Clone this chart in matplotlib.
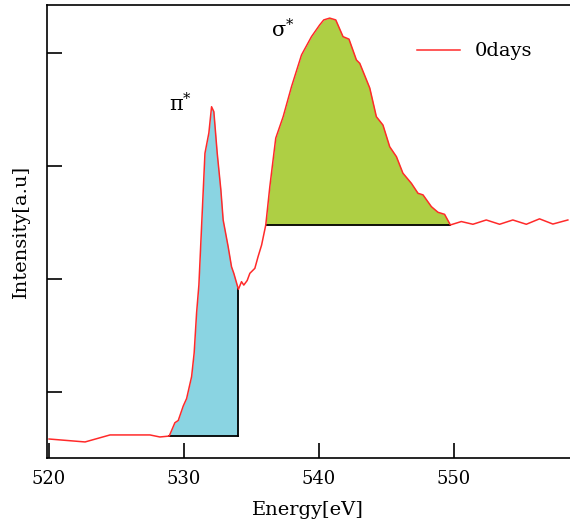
import numpy as np
import matplotlib
matplotlib.use("Agg")
import matplotlib.pyplot as plt

plt.rcParams["font.family"] = ["DejaVu Serif"]
plt.rcParams["mathtext.fontset"] = "dejavuserif"

# spectrum
energy = np.array([
    520.00, 522.67, 524.52, 527.48, 528.22, 528.91, 529.33, 529.58, 529.95, 530.20,
    530.57, 530.76, 530.94, 531.11, 531.56, 531.85, 532.05, 532.22, 532.47, 532.74,
    532.91, 533.28, 533.53, 533.70, 534.04, 534.27, 534.44, 534.69, 534.89, 535.26,
    535.50, 535.76, 536.07, 536.37, 536.81, 537.36, 537.98, 538.72, 539.46, 540.07,
    540.37, 540.81, 541.26, 541.80, 542.24, 542.79, 543.04, 543.78, 544.27, 544.76,
    545.26, 545.76, 546.24, 546.87, 547.36, 547.73, 548.35, 548.84, 549.33, 549.76,
    550.57, 551.43, 552.42, 553.41, 554.39, 555.39, 556.37, 557.36, 558.47,
])
intensity = np.array([
    0.292, 0.279, 0.310, 0.310, 0.301, 0.305, 0.364, 0.374, 0.438, 0.471,
    0.568, 0.673, 0.850, 0.973, 1.556, 1.646, 1.762, 1.740, 1.556, 1.394,
    1.261, 1.143, 1.054, 1.025, 0.954, 0.988, 0.973, 0.993, 1.025, 1.047,
    1.099, 1.150, 1.239, 1.408, 1.623, 1.718, 1.851, 1.991, 2.072, 2.124,
    2.146, 2.154, 2.146, 2.072, 2.061, 1.969, 1.954, 1.845, 1.718, 1.681,
    1.585, 1.541, 1.468, 1.423, 1.379, 1.372, 1.320, 1.295, 1.286, 1.239,
    1.254, 1.242, 1.261, 1.242, 1.261, 1.242, 1.266, 1.243, 1.261,
])

pi_range = (528.91, 534.04)
sigma_range = (536.07, 549.76)

fig = plt.figure(figsize=(5.7, 5.22), dpi=100)
ax = fig.add_axes([46.5 / 570, 64 / 522, 1 - 46.5 / 570, 453 / 522])

ax.plot(energy, intensity, color="#ff2a2a", lw=1.1, label="0days", zorder=3)

# pi* area
m = (energy >= pi_range[0]) & (energy <= pi_range[1])
base_pi = intensity[m][0]
ax.fill_between(energy[m], intensity[m], base_pi, color="#8ad4e2", lw=0, zorder=1)
ax.plot([energy[m][0], energy[m][-1]], [base_pi, base_pi], color="black", lw=1.3, zorder=2)
ax.plot([energy[m][-1], energy[m][-1]], [base_pi, intensity[m][-1]], color="black", lw=1.3, zorder=2)

# sigma* area
m = (energy >= sigma_range[0]) & (energy <= sigma_range[1])
base_sig = intensity[m][0]
ax.fill_between(energy[m], intensity[m], base_sig, color="#aecf44", lw=0, zorder=1)
ax.plot([energy[m][0], energy[m][-1]], [base_sig, base_sig], color="black", lw=1.3, zorder=2)

ax.text(529.78, 1.774, "π$^{*}$", fontsize=15, ha="center", va="center")
ax.text(537.33, 2.102, "σ$^{*}$", fontsize=15, ha="center", va="center")

ax.set_xlim(519.81, 558.63)
ax.set_ylim(0.208, 2.212)
ax.set_xticks([520, 530, 540, 550])
ax.set_yticks([0.5, 1.0, 1.5, 2.0])
ax.set_yticklabels([])
ax.tick_params(direction="in", length=11, width=1.2, labelsize=13, pad=9)
ax.spines["right"].set_visible(False)
for s in ["left", "top", "bottom"]:
    ax.spines[s].set_linewidth(1.2)

ax.set_xlabel("Energy[eV]", fontsize=14, labelpad=9)
ax.set_ylabel("Intensity[a.u]", fontsize=14, labelpad=3)

ax.legend(loc="upper left", bbox_to_anchor=(0.674, 0.956), frameon=False,
          fontsize=14, handlelength=2.2)

fig.savefig("out.png", dpi=100)
